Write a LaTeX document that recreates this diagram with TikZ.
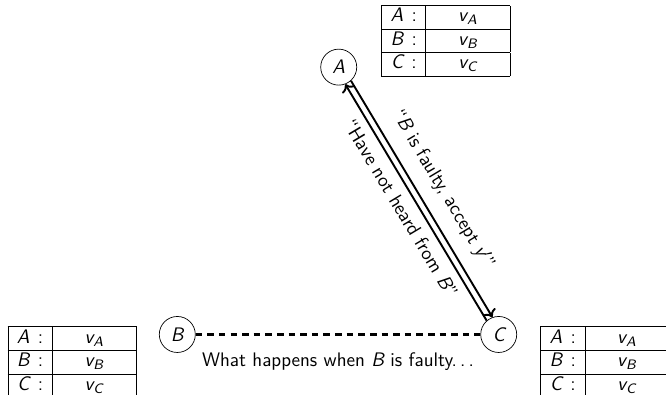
\documentclass[tikz,border=0pt]{standalone}
\usepackage{array}
\usetikzlibrary{arrows.meta,positioning}
\renewcommand\familydefault{\sfdefault}
\SetSymbolFont{letters}{normal}{TU}{lmss}{m}{sl}
\SetSymbolFont{operators}{normal}{TU}{lmss}{m}{n}

% value table kept by each party
\newcommand\valtab{{\setlength\tabcolsep{3pt}\renewcommand\arraystretch{0.97}%
\begin{tabular}{|>{\centering\arraybackslash}p{0.67cm}|>{\centering\arraybackslash}p{1.48cm}|}
\hline $A\,:$ & $v_A$\\\hline
$B\,:$ & $v_B$\\\hline
$C\,:$ & $v_C$\\\hline
\end{tabular}}}

\begin{document}
\begin{tikzpicture}[
  party/.style={draw,circle,minimum size=0.73cm,inner sep=0pt},
  msg/.style={->,line width=1.1pt},
  font=\sffamily\fontsize{11.3}{13.6}\selectfont]
\useasboundingbox (0,0) rectangle (13.5,8.0);
\node[party] (A) at (6.866,6.639) {$A$};
\node[party] (B) at (3.594,1.22) {$B$};
\node[party] (C) at (10.109,1.22) {$C$};
\node[anchor=north west,inner sep=0pt] (tA) at (7.723,7.905) {\valtab};
\node[anchor=north west,inner sep=0pt] (tB) at (0.148,1.39) {\valtab};
\node[anchor=north west,inner sep=0pt] (tC) at (10.946,1.39) {\valtab};
\draw[msg] (A.-48.5) -- node[sloped,above,pos=.51,inner sep=7.5pt] {``$B$ is faulty, accept $y'$''} (C.110.3);
\draw[msg,<-] (A.-69.7) -- node[sloped,below,pos=.49,inner sep=4.5pt] {``Have not heard from $B$''} (C.131.5);
\draw[line width=1.4pt,dash pattern=on 3.8pt off 2.9pt] (B) -- node[below,inner sep=10pt] {What happens when $B$ is faulty.\kern.16em.\kern.16em.} (C);
\end{tikzpicture}
\end{document}
